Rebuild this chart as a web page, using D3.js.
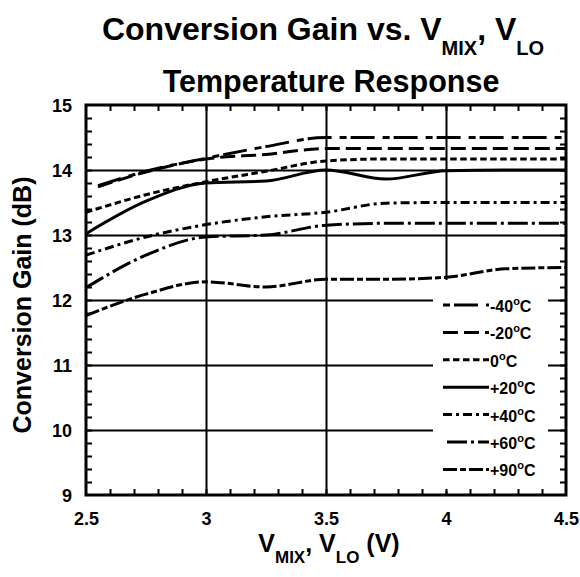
<!DOCTYPE html>
<html>
<head>
<meta charset="utf-8">
<script src="https://cdn.jsdelivr.net/npm/d3@7"></script>
<style>
body{margin:0;background:#fff}
text{font-family:"Liberation Sans",Arial,sans-serif;font-weight:bold;fill:#000}
</style>
</head>
<body>
<script>
var width=580,
	height=577;

// data
var vmix=[2.5,2.75,3.0,3.25,3.5,3.75,4.0,4.25,4.5]
var vmixCold=[2.55,2.75,3.0,3.25,3.5,3.75,4.0,4.25,4.5]
var tempLabels=["-40","-20","0","+20","+40","+60","+90"]
var gainM40=[13.76,13.98,14.18,14.36,14.50,14.50,14.50,14.50,14.50]
var gainM20=[13.74,13.97,14.17,14.24,14.33,14.33,14.33,14.33,14.33]
var gain0=[13.35,13.62,13.82,13.98,14.14,14.17,14.17,14.17,14.17]
var gainP20=[13.02,13.52,13.80,13.83,14.00,13.86,13.99,14.00,14.00]
var gainP40=[12.69,12.97,13.16,13.28,13.35,13.49,13.50,13.50,13.50]
var gainP60=[12.19,12.69,12.97,13.00,13.15,13.18,13.18,13.18,13.18]
var gainP90=[11.76,12.09,12.28,12.20,12.32,12.32,12.35,12.48,12.50]
var xTicks=[2.5,3,3.5,4,4.5]
var yTicks=[9,10,11,12,13,14,15]

var series=[
	{xs:vmixCold,ys:gainM40,dash:"24,8,7,4",off:32},
	{xs:vmixCold,ys:gainM20,dash:"15,6",off:0},
	{xs:vmix,ys:gain0,dash:"6.5,3.5",off:0},
	{xs:vmix,ys:gainP20,dash:null,off:0},
	{xs:vmix,ys:gainP40,dash:"9,4,3,4",off:0},
	{xs:vmix,ys:gainP60,dash:"20,4,3,4",off:27},
	{xs:vmix,ys:gainP90,dash:"14,3,6,3",off:0}
]

var x=d3.scaleLinear().domain([2.5,4.5]).range([86,566]),
	y=d3.scaleLinear().domain([9,15]).range([495,105])

var svg=d3.select("body").append("svg").attr("width",width).attr("height",height)

// grid
svg.append("g").attr("transform","translate(0,495)")
	.call(d3.axisBottom(x).tickValues([3,3.5,4]).tickSize(-390).tickFormat(""))
	.call(g=>g.select(".domain").remove())
	.selectAll("line").attr("stroke","#000").attr("stroke-width",2)
svg.append("g").attr("transform","translate(86,0)")
	.call(d3.axisLeft(y).tickValues([10,11,12,13,14]).tickSize(-480).tickFormat(""))
	.call(g=>g.select(".domain").remove())
	.selectAll("line").attr("stroke","#000").attr("stroke-width",2)

// legend background hides grid
svg.append("rect").attr("x",433).attr("y",280).attr("width",115).attr("height",211).attr("fill","#fff")

var line=d3.line().curve(d3.curveMonotoneX)

svg.append("g").selectAll("path").data(series).enter().append("path")
	.attr("d",d=>line(d.xs.map((v,i)=>[x(v),y(d.ys[i])])))
	.attr("fill","none").attr("stroke","#000").attr("stroke-width",3)
	.attr("stroke-dasharray",d=>d.dash)

// minor ticks, inward
var xMinor=d3.range(2.6,4.45,0.1),
	yMinor=d3.range(9.2,14.9,0.2)
function styleTicks(g){g.select(".domain").remove();g.selectAll("line").attr("stroke","#000").attr("stroke-width",2)}
svg.append("g").attr("transform","translate(0,495)").call(d3.axisBottom(x).tickValues(xMinor).tickSize(-6).tickFormat("")).call(styleTicks)
svg.append("g").attr("transform","translate(0,105)").call(d3.axisTop(x).tickValues(xMinor).tickSize(-6).tickFormat("")).call(styleTicks)
svg.append("g").attr("transform","translate(86,0)").call(d3.axisLeft(y).tickValues(yMinor).tickSize(-6).tickFormat("")).call(styleTicks)
svg.append("g").attr("transform","translate(566,0)").call(d3.axisRight(y).tickValues(yMinor).tickSize(-6).tickFormat("")).call(styleTicks)

// frame
svg.append("rect").attr("x",86).attr("y",105).attr("width",480).attr("height",390)
	.attr("fill","none").attr("stroke","#000").attr("stroke-width",3)

// tick labels
var xl=svg.append("g").attr("transform","translate(0,495)")
	.call(d3.axisBottom(x).tickValues(xTicks).tickSize(0).tickPadding(0).tickFormat(d3.format("")))
xl.select(".domain").remove()
xl.selectAll("text").attr("y",30).attr("dy",0).style("font-size","18px")
var yl=svg.append("g").attr("transform","translate(86,0)")
	.call(d3.axisLeft(y).tickValues(yTicks).tickSize(0).tickPadding(14).tickFormat(d3.format("d")))
yl.select(".domain").remove()
yl.selectAll("text").attr("dy","0.36em").style("font-size","18px")

// legend
var leg=svg.append("g").selectAll("g").data(series).enter().append("g")
	.attr("transform",(d,i)=>"translate(0,"+(312+i*27.4)+")")
leg.append("line").attr("x1",443).attr("x2",489).attr("y1",-7).attr("y2",-7)
	.attr("stroke","#000").attr("stroke-width",3).attr("stroke-dasharray",d=>d.dash)
	.attr("stroke-dashoffset",d=>d.off)
var lt=leg.append("text").attr("x",490).style("font-size","16px")
lt.append("tspan").text((d,i)=>tempLabels[i])
lt.append("tspan").attr("dy",-7).style("font-size","11px").text("o")
lt.append("tspan").attr("dy",7).text("C")

// titles
var t1=svg.append("text").attr("x",323).attr("y",40).attr("text-anchor","middle").style("font-size","32px")
t1.append("tspan").text("Conversion Gain vs. V")
t1.append("tspan").attr("dy",15).style("font-size","20px").text("MIX")
t1.append("tspan").attr("dy",-15).text(", V")
t1.append("tspan").attr("dy",15).style("font-size","20px").text("LO")
svg.append("text").attr("x",331).attr("y",92).attr("text-anchor","middle").style("font-size","30.5px")
	.text("Temperature Response")

var xt=svg.append("text").attr("x",329).attr("y",552).attr("text-anchor","middle").style("font-size","25px")
xt.append("tspan").text("V")
xt.append("tspan").attr("dy",11).style("font-size","17px").text("MIX")
xt.append("tspan").attr("dy",-11).text(", V")
xt.append("tspan").attr("dy",11).style("font-size","17px").text("LO")
xt.append("tspan").attr("dy",-11).text(" (V)")

svg.append("text").attr("transform","translate(31,305) rotate(-90)").attr("text-anchor","middle")
	.style("font-size","25px").text("Conversion Gain (dB)")
</script>
</body>
</html>
